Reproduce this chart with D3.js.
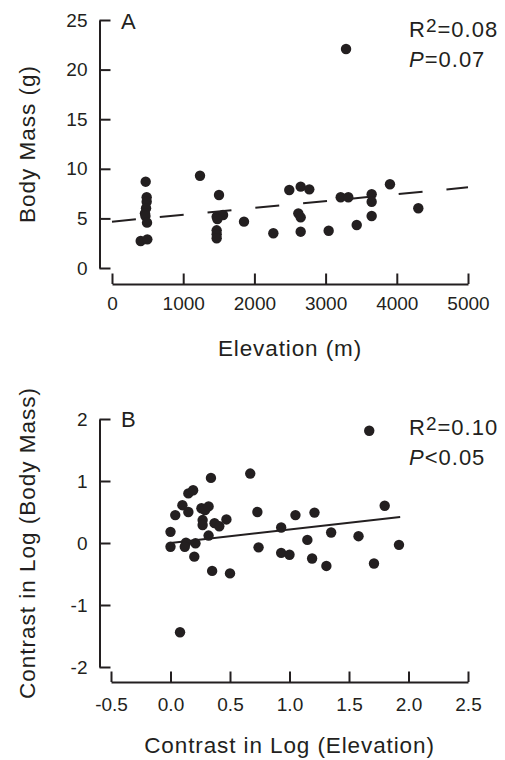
<!DOCTYPE html>
<html>
<head>
<meta charset="utf-8">
<script src="https://cdn.jsdelivr.net/npm/d3@7/dist/d3.min.js"></script>
<style>
  html, body { margin: 0; padding: 0; background: #fff; }
  svg { display: block; }
  text { font-family: "Liberation Sans", Arial, Helvetica, sans-serif; fill: #231f20; }
</style>
</head>
<body>
<svg id="chart" width="505" height="760"></svg>
<script>
// ---------- Panel A data: elevation (m) vs body mass (g) ----------
const elevA = [473, 487, 487, 478, 463, 470, 492, 403, 496,
  1236, 1503, 1470, 1560, 1480, 1470, 1470, 1470,
  1854, 2266, 2490, 2650, 2771, 2617, 2650, 2650, 3043,
  3212, 3319, 3437, 3647, 3647, 3647, 3904, 4302, 3287];
const massA = [8.70, 7.13, 6.68, 6.02, 5.51, 5.24, 4.57, 2.72, 2.89,
  9.30, 7.36, 5.17, 5.34, 4.94, 3.80, 3.40, 3.00,
  4.67, 3.50, 7.86, 8.20, 7.93, 5.51, 5.11, 3.66, 3.76,
  7.13, 7.13, 4.33, 7.43, 6.68, 5.24, 8.44, 6.02, 22.08];
const fitAx = [0, 5000];
const fitAy = [4.67, 8.13];
const ticksAx = [0, 1000, 2000, 3000, 4000, 5000];
const ticksAy = [0, 5, 10, 15, 20, 25];

// ---------- Panel B data: contrasts ----------
const contrastElev = [0.00, 0.00, 0.04, 0.10, 0.15, 0.15, 0.19, 0.13, 0.12, 0.21, 0.20, 0.08,
  0.26, 0.29, 0.32, 0.27, 0.27, 0.32, 0.34, 0.37, 0.41, 0.47, 0.35, 0.50,
  0.67, 0.73, 0.74, 0.93, 0.93, 1.00, 1.05, 1.15, 1.19, 1.21, 1.31, 1.35,
  1.58, 1.71, 1.67, 1.80, 1.92];
const contrastMass = [0.18, -0.06, 0.45, 0.61, 0.50, 0.80, 0.85, 0.005, -0.06, -0.005, -0.22, -1.44,
  0.56, 0.53, 0.59, 0.37, 0.29, 0.12, 1.05, 0.32, 0.27, 0.38, -0.45, -0.49,
  1.12, 0.50, -0.07, 0.25, -0.16, -0.19, 0.45, 0.05, -0.25, 0.49, -0.37, 0.17,
  0.11, -0.33, 1.81, 0.60, -0.03];
const fitBx = [0, 1.93];
const fitBy = [0.0, 0.42];
const ticksBx = [-0.5, 0, 0.5, 1.0, 1.5, 2.0, 2.5];
const ticksBy = [-2, -1, 0, 1, 2];

const ink = "#231f20";
const svg = d3.select("#chart");

const hy = v => String(v).replace("\u2212", "-");

function styleAxis(g, fs) {
  g.select(".domain").attr("stroke", ink).attr("stroke-width", 2);
  g.selectAll(".tick line").attr("stroke", ink).attr("stroke-width", 2);
  g.selectAll(".tick text").attr("fill", ink)
    .style("font-family", "'Liberation Sans', Arial, Helvetica, sans-serif")
    .style("font-size", fs + "px");
}

function panel(opt) {
  const x = d3.scaleLinear().domain(opt.xDom).range(opt.xRange);
  const y = d3.scaleLinear().domain(opt.yDom).range(opt.yRange);

  // y axis (ticks point inward)
  const gy = svg.append("g").attr("transform", `translate(${opt.yAxisX},0)`)
    .call(d3.axisLeft(y).tickValues(opt.yTicks).tickSizeInner(-11).tickSizeOuter(0)
      .tickPadding(12).tickFormat(d => hy(d3.format("d")(d)).replace("\u2212", "-")));
  styleAxis(gy, 19);
  gy.selectAll(".tick text").text(d => (d < 0 ? "-" : "") + Math.abs(d));

  // x axis (ticks point up)
  const gx = svg.append("g").attr("transform", `translate(0,${opt.xAxisY})`)
    .call(d3.axisBottom(x).tickValues(opt.xTicks).tickSizeInner(-10.5).tickSizeOuter(0)
      .tickPadding(opt.xPad).tickFormat(opt.xFmt));
  styleAxis(gx, 19);

  // fit line
  svg.append("line")
    .attr("x1", x(opt.fitX[0])).attr("y1", y(opt.fitY[0]))
    .attr("x2", x(opt.fitX[1])).attr("y2", y(opt.fitY[1]))
    .attr("stroke", ink).attr("stroke-width", 2)
    .attr("stroke-dasharray", opt.dash || null);

  // points
  svg.append("g").selectAll("circle").data(opt.xs.map((v, i) => [v, opt.ys[i]]))
    .join("circle")
    .attr("cx", d => x(d[0])).attr("cy", d => y(d[1])).attr("r", 5.2)
    .attr("fill", ink);

  // panel letter
  svg.append("text").attr("x", 121).attr("y", opt.letterY)
    .style("font-size", "22px").text(opt.letter);

  // stats
  const t1 = svg.append("text").attr("x", 409).attr("y", opt.statY)
    .style("font-size", "22px").style("letter-spacing", "1px");
  t1.append("tspan").text("R");
  t1.append("tspan").attr("dy", -5).style("font-size", "19px").text("2");
  t1.append("tspan").attr("dy", 5).text(opt.r2);
  const t2 = svg.append("text").attr("x", 409).attr("y", opt.statY + 30)
    .style("font-size", "22px").style("letter-spacing", "1px");
  t2.append("tspan").style("font-style", "italic").text("P");
  t2.append("tspan").text(opt.p);

  // axis titles
  svg.append("text").attr("x", (opt.xRange[0] + opt.xRange[1]) / 2).attr("y", opt.xTitleY)
    .attr("text-anchor", "middle").style("font-size", "22.5px").style("letter-spacing", "0.9px")
    .text(opt.xTitle);
  const yc = (opt.yRange[0] + opt.yRange[1]) / 2;
  svg.append("text").attr("transform", `translate(35,${yc}) rotate(-90)`)
    .attr("text-anchor", "middle").style("font-size", "22.5px").style("letter-spacing", "1px")
    .text(opt.yTitle);
}

panel({
  xDom: [0, 5000], xRange: [112, 468], yDom: [0, 25], yRange: [268, 20],
  yAxisX: 99.5, xAxisY: 284, xPad: 13, xTicks: ticksAx, yTicks: ticksAy,
  xFmt: d3.format("d"),
  xs: elevA, ys: massA, fitX: fitAx, fitY: fitAy, dash: "24,24",
  letter: "A", letterY: 29, statY: 37, r2: "=0.08", p: "=0.07",
  xTitle: "Elevation (m)", xTitleY: 356, yTitle: "Body Mass (g)"
});

panel({
  xDom: [-0.5, 2.5], xRange: [111, 468], yDom: [-2, 2], yRange: [667, 419],
  yAxisX: 99.5, xAxisY: 682, xPad: 16, xTicks: ticksBx, yTicks: ticksBy,
  xFmt: d => (d < 0 ? "-" : "") + Math.abs(d).toFixed(1),
  xs: contrastElev, ys: contrastMass, fitX: fitBx, fitY: fitBy, dash: null,
  letter: "B", letterY: 427, statY: 435, r2: "=0.10", p: "<0.05",
  xTitle: "Contrast in Log (Elevation)", xTitleY: 753, yTitle: "Contrast in Log (Body Mass)"
});
</script>
</body>
</html>
